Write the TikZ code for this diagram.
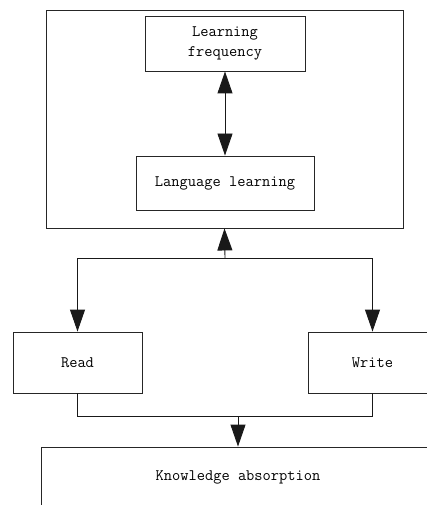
\documentclass[tikz,border=0pt]{standalone}
\usetikzlibrary{arrows.meta}
\begin{document}
\begin{tikzpicture}[x=1pt,y=-1pt,
  box/.style={draw=black!85,line width=0.9pt,inner sep=0pt,align=center,
    font=\fontsize{16}{20}\selectfont\ttfamily},
  conn/.style={draw=black!90,line width=0.9pt},
  arr/.style={conn,-{Triangle[length=22pt,width=15pt]}},
  barr/.style={conn,{Triangle[length=22pt,width=15pt]}-{Triangle[length=22pt,width=15pt]}}]
\useasboundingbox (0,0) rectangle (427,505);
\clip (0,0) rectangle (427,505);
\node[box,minimum width=357pt,minimum height=218pt] (outer) at (224.5,119) {};
\node[box,minimum width=160pt,minimum height=55pt] (lf) at (225,43.5) {Learning\\frequency};
\node[box,minimum width=178pt,minimum height=54pt] (ll) at (225,183) {Language learning};
\node[box,minimum width=129pt,minimum height=61pt] (read) at (77.5,362.5) {Read};
\node[box,minimum width=129pt,minimum height=61pt] (write) at (372.5,362.5) {Write};
\node[box,minimum width=394pt,minimum height=60pt] (know) at (238,477) {Knowledge absorption};
\coordinate (j1) at (225,258);
\coordinate (j2) at (238,416);
\draw[barr] (lf.south) -- (ll.north);
\draw[arr] (j1) -- (outer.south);
\draw[arr] (j1) -| (read.north);
\draw[arr] (j1) -| (write.north);
\draw[conn] (read.south) |- (j2);
\draw[conn] (write.south) |- (j2);
\draw[arr] (j2) -- (know.north);
\end{tikzpicture}
\end{document}
